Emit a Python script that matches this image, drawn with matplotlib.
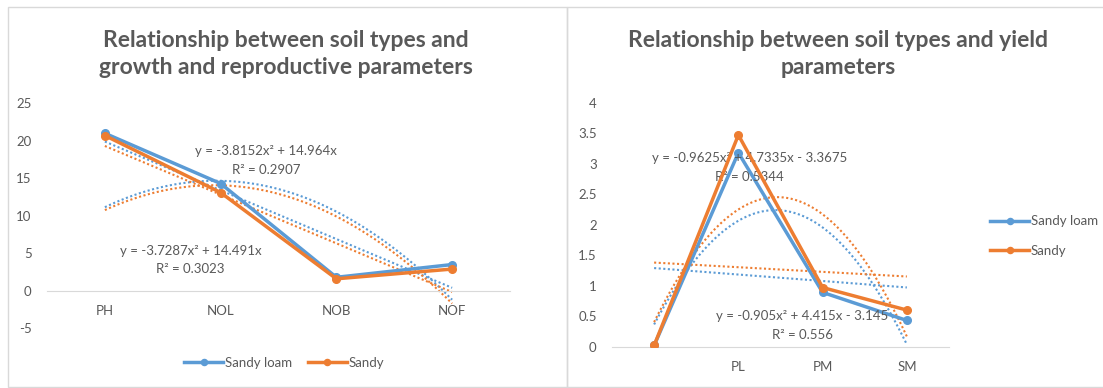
import numpy as np
import matplotlib
matplotlib.use("Agg")
import matplotlib.pyplot as plt
from matplotlib.patches import Rectangle

plt.rcParams['font.family'] = ['Lato', 'DejaVu Sans']

BLUE = '#5B9BD5'
ORANGE = '#ED7D31'
GRAY = '#595959'
GRID = '#D9D9D9'

# left chart data
growth_cats = ['PH', 'NOL', 'NOB', 'NOF']
growth_sandy_loam = [21.0, 14.3, 1.8, 3.5]
growth_sandy = [20.7, 13.1, 1.6, 2.9]
# polynomial trendlines shown on the chart (a, b, c) and R²
growth_poly_loam = [-3.8152, 14.964, 0.0]
growth_r2_loam = 0.2907
growth_poly_sandy = [-3.7287, 14.491, 0.0]
growth_r2_sandy = 0.3023

# right chart data
yield_cats = ['', 'PL', 'PM', 'SM']
yield_sandy_loam = [0.02, 3.18, 0.89, 0.43]
yield_sandy = [0.02, 3.47, 0.97, 0.60]
yield_poly_loam = [-0.905, 4.415, -3.145]
yield_r2_loam = 0.556
yield_poly_sandy = [-0.9625, 4.7335, -3.3675]
yield_r2_sandy = 0.5344

W, H = 1103, 388
FS = 9
fig = plt.figure(figsize=(W / 100, H / 100), dpi=100)


def px_axes(x0, x1, ytop, ybot):
    return fig.add_axes([x0 / W, 1 - ybot / H, (x1 - x0) / W, (ybot - ytop) / H])


def eq_text(coef, r2):
    a, b, c = coef
    s = f"y = {a:g}x² + {b:g}x"
    if c < 0:
        s += f" - {abs(c):g}"
    elif c > 0:
        s += f" + {c:g}"
    return s + f"\nR² = {r2:g}"


def draw_chart(ax, cats, loam, sandy, poly_loam, poly_sandy, ylim, step):
    x = np.arange(len(cats))
    xs = np.linspace(1, len(cats), 200)
    for vals, coef, col in [(loam, poly_loam, BLUE), (sandy, poly_sandy, ORANGE)]:
        # linear trendline (Excel x = 1..n)
        lin = np.polyfit(x + 1, vals, 1)
        ax.plot(xs - 1, np.polyval(lin, xs), color=col, lw=1.5, ls=(0, (1, 1.2)), zorder=2)
        ax.plot(xs - 1, np.polyval(coef, xs), color=col, lw=1.5, ls=(0, (1, 1.2)), zorder=2)
    ax.plot(x, loam, color=BLUE, lw=2.5, marker='o', ms=5.5, label='Sandy loam', zorder=3)
    ax.plot(x, sandy, color=ORANGE, lw=2.5, marker='o', ms=5.5, label='Sandy', zorder=4)

    ax.set_xlim(-0.5, len(cats) - 0.5)
    ax.set_ylim(*ylim)
    ticks = np.arange(ylim[0], ylim[1] + step / 2, step)
    ax.set_yticks(ticks)
    ax.set_yticklabels([f"{t:g}" for t in ticks])
    ax.set_xticks(x)
    ax.set_xticklabels(cats)
    for s in ['top', 'right', 'left']:
        ax.spines[s].set_visible(False)
    ax.spines['bottom'].set_position(('data', 0))
    ax.spines['bottom'].set_color(GRID)
    ax.tick_params(axis='both', length=0, colors=GRAY, labelsize=FS + 0.5)
    ax.tick_params(axis='x', pad=10)
    ax.tick_params(axis='y', pad=11)
    ax.patch.set_alpha(0)


# chart borders
fig.add_artist(Rectangle((8 / W, 1 - 387 / H), (567 - 8) / W, (387 - 7) / H,
                         transform=fig.transFigure, fill=False, ec=GRID, lw=1))
fig.add_artist(Rectangle((567 / W, 1 - 387 / H), (W + 5 - 567) / W, (387 - 7) / H,
                         transform=fig.transFigure, fill=False, ec=GRID, lw=1))

# left chart
ax1 = px_axes(47, 510, 103.3, 328.3)
draw_chart(ax1, growth_cats, growth_sandy_loam, growth_sandy,
           growth_poly_loam, growth_poly_sandy, (-5, 25), 5)
ax1.text(1.39, 17.4, eq_text(growth_poly_loam, growth_r2_loam),
         ha='center', va='center', color=GRAY, fontsize=FS + 0.5, linespacing=1.65)
ax1.text(0.74, 4.1, eq_text(growth_poly_sandy, growth_r2_sandy),
         ha='center', va='center', color=GRAY, fontsize=FS + 0.5, linespacing=1.65)
ax1.legend(loc='center', bbox_to_anchor=(284 / W, 1 - 363 / H), bbox_transform=fig.transFigure,
           ncol=2, frameon=False, fontsize=FS + 0.5, labelcolor=GRAY, handlelength=3,
           handletextpad=0.1, columnspacing=1.2, markerscale=0.8)

fig.text(286 / W, 1 - 54 / H, "Relationship between soil types and\ngrowth and reproductive parameters",
         ha='center', va='center', fontsize=16.5, fontweight='bold', color=GRAY, linespacing=1.35)

# right chart
ax2 = px_axes(612, 949, 102.7, 346.7)
draw_chart(ax2, yield_cats, yield_sandy_loam, yield_sandy,
           yield_poly_loam, yield_poly_sandy, (0, 4), 0.5)
ax2.text(1.13, 2.94, eq_text(yield_poly_sandy, yield_r2_sandy),
         ha='center', va='center', color=GRAY, fontsize=FS + 0.5, linespacing=1.65)
ax2.text(1.76, 0.35, eq_text(yield_poly_loam, yield_r2_loam),
         ha='center', va='center', color=GRAY, fontsize=FS + 0.5, linespacing=1.65)
ax2.legend(loc='center left', bbox_to_anchor=(978 / W, 1 - 236 / H), bbox_transform=fig.transFigure,
           ncol=1, frameon=False, fontsize=FS + 0.5, labelcolor=GRAY, handlelength=3,
           handletextpad=0.1, labelspacing=1.3, markerscale=0.8)

fig.text(838 / W, 1 - 54 / H, "Relationship between soil types and yield\nparameters",
         ha='center', va='center', fontsize=16.5, fontweight='bold', color=GRAY, linespacing=1.35)

fig.savefig('out.png', dpi=100, facecolor='white')
